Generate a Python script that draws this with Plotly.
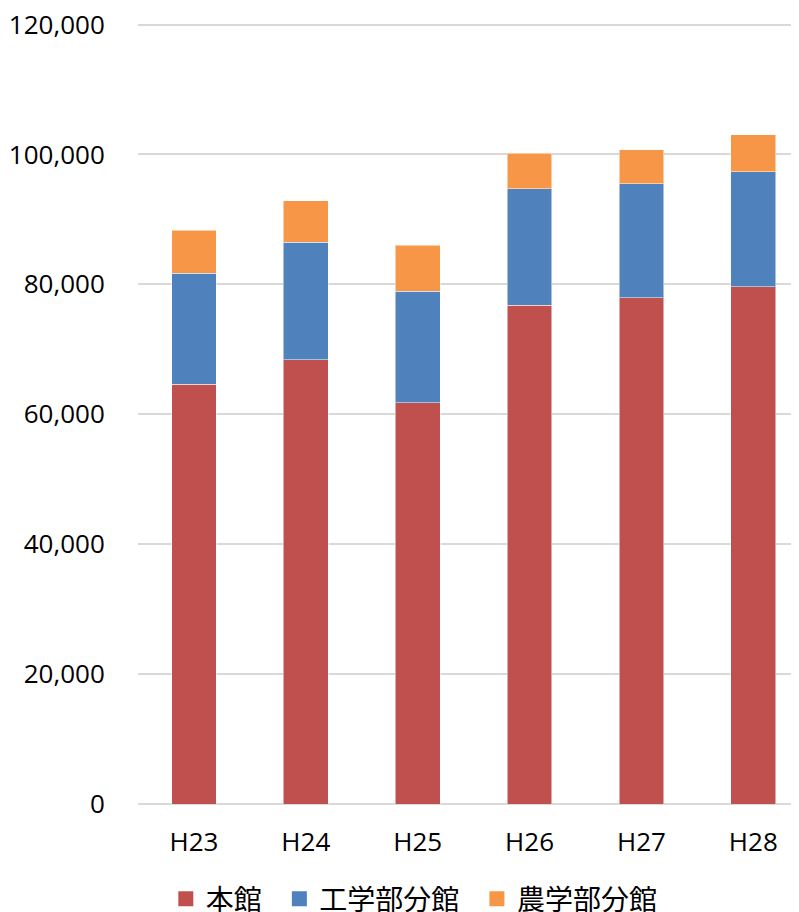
import plotly.graph_objects as go

categories = ["H23", "H24", "H25", "H26", "H27", "H28"]
honkan = [64600, 68400, 61800, 76800, 77900, 79600]
kogaku = [17100, 18100, 17100, 17900, 17600, 17700]
nogaku = [6600, 6400, 7100, 5500, 5200, 5700]
series_names = ["本館", "工学部分館", "農学部分館"]
colors = ["#C0504D", "#4F81BD", "#F79646"]
y_ticks = [0, 20000, 40000, 60000, 80000, 100000, 120000]

fig = go.Figure()
for name, vals, c in zip(series_names, [honkan, kogaku, nogaku], colors):
    fig.add_trace(go.Bar(x=categories, y=vals, name=name, showlegend=False,
                         marker=dict(color=c, line=dict(color="rgba(255,255,255,0.5)", width=1))))
# legend entries with larger square swatches
for name, c in zip(series_names, colors):
    fig.add_trace(go.Scatter(x=[None], y=[None], mode="markers", name=name + "\u00a0\u00a0",
                             marker=dict(symbol="square", size=15, color=c), hoverinfo="skip"))

fig.update_layout(
    barmode="stack",
    bargap=0.6,
    width=799, height=912,
    margin=dict(l=130, r=0, t=10, b=116, autoexpand=False),
    paper_bgcolor="white", plot_bgcolor="white",
    font=dict(family="Open Sans, Noto Sans CJK JP", color="#000000", size=26),
    yaxis=dict(range=[0, 121000], tickvals=y_ticks,
               tickformat=",d", showgrid=True, ticklabeloverflow="allow",
               gridcolor="#D9D9D9", gridwidth=2, zeroline=True, zerolinecolor="#D9D9D9",
               zerolinewidth=2, ticks="outside", ticklen=27, tickcolor="rgba(0,0,0,0)",
               tickfont=dict(size=26), automargin=False),
    xaxis=dict(showline=False, ticks="outside", ticklen=15, tickcolor="rgba(0,0,0,0)",
               tickfont=dict(size=26), range=[-0.5, 5.48], automargin=False),
    legend=dict(orientation="h", x=0.422, xanchor="center", y=-0.089, yanchor="top",
                font=dict(family="Noto Sans CJK JP", size=28),
                traceorder="normal"),
    showlegend=True,
)
fig.write_html("out.html")
